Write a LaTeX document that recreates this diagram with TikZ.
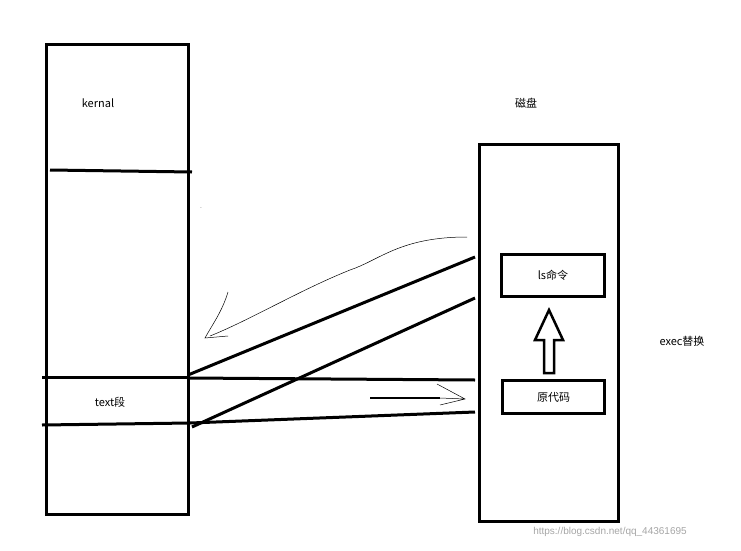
\documentclass[tikz,border=0pt]{standalone}
\usepackage{fontspec}
\setmainfont{Liberation Sans}
\newfontfamily\cjk{Noto Sans CJK SC}
\begin{document}
\begin{tikzpicture}[x=1pt,y=-1pt,
  thick line/.style={line width=3pt},
  lbl/.style={font=\cjk\fontsize{11}{13}\selectfont}]
\useasboundingbox[fill=white] (0,0) rectangle (741,551);
% left memory
\node[draw,line width=3pt,minimum width=142pt,minimum height=470pt,anchor=north west,inner sep=0] (mem) at (45,43) {};
\draw[thick line] (50,170) -- (192,172);
\draw[thick line] (42,377) -- (190,377);
\draw[thick line] (42,425) -- (190,423);
\node[lbl] (kern) at (98,103) {kernal};
\node[lbl] (text) at (110,402) {text段};
% disk
\node[draw,line width=3pt,minimum width=139pt,minimum height=377pt,anchor=north west,inner sep=0] (disk) at (478,143) {};
\node[lbl] (dl) at (526,103) {磁盘};
\node[draw,line width=3pt,minimum width=103pt,minimum height=42pt,anchor=north west,inner sep=0] (ls) at (500,253) {};
\node[lbl] at (ls.center) {ls命令};
\node[draw,line width=3pt,minimum width=102pt,minimum height=33pt,anchor=north west,inner sep=0] (src) at (501,379) {};
\node[lbl] at (src.center) {原代码};
\node[lbl] (exec) at (682,341) {exec替换};
% hollow arrow
\draw[line width=2.5pt,line join=miter]
  (544,373) -- (544,340) -- (535,340) -- (549,310) -- (563,340) -- (554,340) -- (554,373) -- cycle;
% connecting lines
\coordinate (a1) at (188,375); \coordinate (b1) at (475,257);
\coordinate (a2) at (192,427); \coordinate (b2) at (475,298);
\coordinate (a3) at (188,378); \coordinate (b3) at (475,380);
\coordinate (a4) at (190,423); \coordinate (b4) at (475,412);
\draw[thick line] (a1) -- (b1);
\draw[thick line] (a2) -- (b2);
\draw[thick line] (a3) -- (b3);
\draw[thick line] (a4) -- (b4);
% thin curvy arrow
\draw[line width=0.5pt] (467,237) .. controls (400,237) and (380,260) .. (350,270)
  .. controls (300,290) and (250,320) .. (210,336);
\draw[line width=0.5pt] (228,292) .. controls (222,312) and (212,325) .. (205,338) -- (228,336);
% small arrow
\draw[line width=2.5pt] (370,398) -- (440,398);
\draw[line width=0.5pt] (440,398) -- (465,399) (437,384) -- (465,399) -- (440,405);
\node[text=gray!70,font=\fontsize{10}{12}\selectfont] (wm) at (610,532) {https://blog.csdn.net/qq\_44361695};
\node[font=\tiny] at (201,208) {.};
\end{tikzpicture}
\end{document}
